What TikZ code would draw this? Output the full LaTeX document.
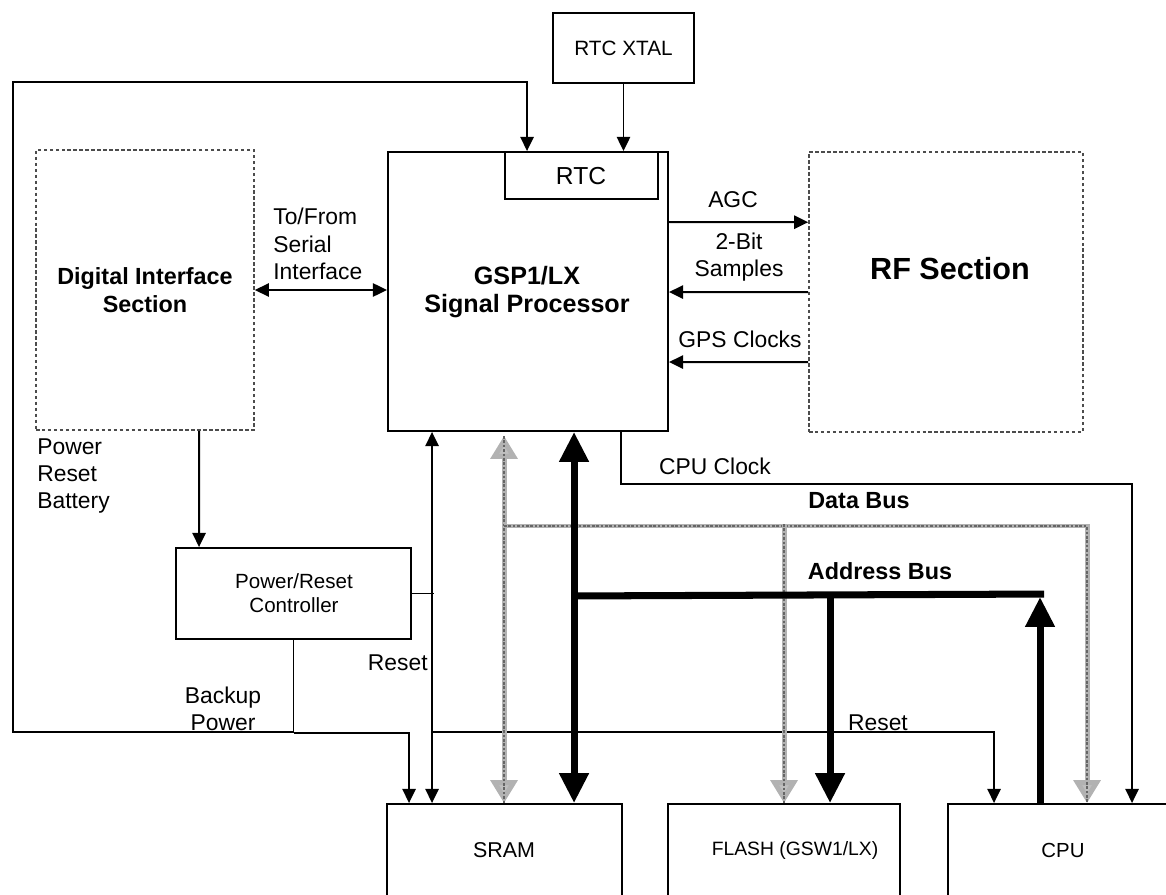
\documentclass[tikz,border=0pt]{standalone}
\usepackage{fontspec}
\setmainfont{Liberation Sans}
\usetikzlibrary{arrows.meta,positioning,fit,calc}
\tikzset{
  tsm/.tip={Triangle[length=8pt,width=7.5pt]},
  tbg/.tip={Triangle[length=17pt,width=16pt]},
  tgy/.tip={Triangle[length=13pt,width=15pt,fill=gray!50]},
  box/.style={draw,line width=1.1pt,inner sep=0pt},
  dbox/.style={box,draw=black!70,line width=0.9pt,dash pattern=on 2pt off 1.4pt},
  lbl/.style={inner sep=0pt,align=center},
  blbl/.style={lbl,font=\fontsize{13.3}{15.8}\selectfont\bfseries},
  ar/.style={-tsm,line width=1.1pt},
  arr/.style={tsm-tsm,line width=1.1pt},
  abus/.style={line width=4pt},
  dbus/.style={line width=2.8pt,draw=gray!60,
    postaction={draw=black!60,line width=1.2pt,dash pattern=on 1.5pt off 1pt,arrows=-}},
}
\begin{document}
\begin{tikzpicture}[x=0.02cm,y=-0.02cm,every node/.style={font=\fontsize{13}{15.5}\selectfont}]
  \useasboundingbox (0,0) rectangle (1166,895);
  % blocks
  \node[box,fit={(553,13) (694,83)}] (xtal) {};
  \node[lbl,font=\fontsize{11.8}{14}\selectfont] (xtalt) at (xtal.center) {RTC XTAL};
  \node[box,fit={(388,152) (668,431)}] (gsp) {};
  \node[lbl,font=\fontsize{14.3}{16}\selectfont\bfseries] (gspt) at (527,292) {GSP1/LX\\Signal Processor};
  \node[box,fit={(505,152) (658,199)}] (rtc) {};
  \node[lbl,font=\fontsize{14}{16}\selectfont] (rtct) at (581,176) {RTC};
  \node[dbox,fit={(36,150) (254,430)}] (dis) {};
  \node[lbl,font=\fontsize{13.3}{15.8}\selectfont\bfseries] (dist) at (145,290) {Digital Interface\\Section};
  \node[dbox,fit={(809,152) (1083,432)}] (rf) {};
  \node[lbl,font=\fontsize{17.4}{20}\selectfont\bfseries] (rft) at (950,269) {RF Section};
  \node[box,fit={(176,548) (411,639)}] (prc) {};
  \node[lbl,font=\fontsize{11.7}{14}\selectfont] (prct) at (294,593) {Power/Reset\\Controller};
  \node[box,fit={(387,804) (622,897)}] (sram) {};
  \node[lbl,font=\fontsize{12.2}{14}\selectfont] (sramt) at (504,850) {SRAM};
  \node[box,fit={(668,804) (900,897)}] (flash) {};
  \node[lbl,font=\fontsize{11}{13}\selectfont] (flasht) at (795,850) {FLASH (GSW1/LX)};
  \node[box,fit={(948,804) (1178,897)}] (cpu) {};
  \node[lbl,font=\fontsize{11.6}{14}\selectfont] (cput) at (1063,850) {CPU};

  % labels
  \node[lbl,anchor=west,align=left] (sert) at (273,244) {To/From\\Serial\\Interface};
  \node[lbl] (agct) at (733,200) {AGC};
  \node[lbl] (smpt) at (739,257) {2-Bit\\Samples};
  \node[lbl] (gpst) at (740,339) {GPS Clocks};
  \node[lbl] (clkt) at (715,466) {CPU Clock};
  \node[blbl] (dbt) at (859,501) {Data Bus};
  \node[blbl] (abt) at (880,571) {Address Bus};
  \node[lbl] (rstt) at (878,723) {Reset};
  \node[lbl,anchor=east] (prst) at (428,663) {Reset};
  \node[lbl] (bkpt) at (223,709) {Backup\\Power};
  \node[lbl,anchor=west,align=left] (pwrt) at (37,476) {Power\\Reset\\Battery};

  \coordinate (lc) at (13,732);
  \coordinate (tc) at (13,82);

  % thin signals
  \draw[ar] (xtal.south) -- (xtal.south |- rtc.north);
  \draw[ar] (prc.south) |- (lc) -- (tc) -| ($(rtc.north west)+(23,0)$);
  \draw[ar] ($(prc.south)+(0,93)$) -| ($(sram.north west)+(23,0)$);
  \draw[arr] ($(sram.north west)+(46,0)$) -- ($(gsp.south west)+(45,0)$);
  \draw[line width=1.1pt] (prc.east) -- ++(22,0);
  \draw[ar] ($(sram.north west)+(46,-71)$) -| ($(cpu.north west)+(47,0)$);
  \draw[arr] (dis.east) -- (dis.east -| gsp.west);
  \draw[ar] ($(gsp.north east)+(0,71)$) -- ($(rf.north west)+(0,71)$);
  \draw[ar] ($(rf.north west)+(0,141)$) -- ($(gsp.north east)+(0,141)$);
  \draw[ar] ($(rf.north west)+(0,211)$) -- ($(gsp.north east)+(0,211)$);
  \draw[ar] ($(dis.south west)+(164,0)$) -- ($(prc.north west)+(24,0)$);
  \draw[ar] ($(gsp.south west)+(234,0)$) -- ++(0,52) -| ($(cpu.north west)+(185,0)$);

  % data bus
  \draw[dbus,tgy-tgy] ($(gsp.south west)+(117,4)$) -- ($(sram.north west)+(118,0)$);
  \draw[dbus,-tgy] ($(gsp.south west)+(117,94)$) -| ($(cpu.north west)+(140,0)$);
  \draw[dbus,-tgy] ($(flash.north west)+(117,-279)$) -- ($(flash.north west)+(117,0)$);

  % address bus
  \draw[abus,tbg-tbg] ($(gsp.south west)+(187,0)$) -- ($(sram.north west)+(188,0)$);
  \draw[abus] ($(gsp.south west)+(187,164)$) -- ($(cpu.north west)+(97,-209)$);
  \draw[abus,-tbg] ($(flash.north west)+(163,-209)$) -- ($(flash.north west)+(163,0)$);
  \draw[abus,-tbg] ($(cpu.north west)+(93,0)$) -- ($(cpu.north west)+(93,-206)$);
\end{tikzpicture}
\end{document}
